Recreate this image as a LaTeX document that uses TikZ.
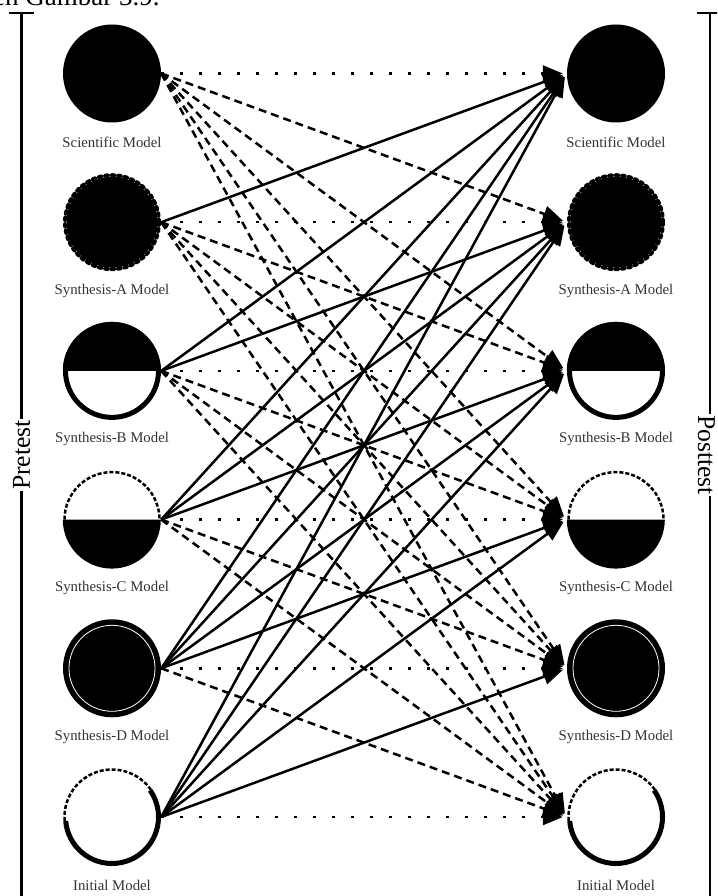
\documentclass[tikz,border=0pt]{standalone}
\usepackage{fontspec}
\setmainfont{Liberation Serif}
\usetikzlibrary{arrows.meta, positioning, calc}

\tikzset{
  model/.style={circle, minimum size=98pt, inner sep=0pt},
  modellbl/.style={font=\fontsize{14.8}{16}\selectfont, text=black!80},
  link/.style={line width=2.5pt, -{Triangle[length=20pt, width=16pt]}, shorten >=4pt},
  keep/.style={link, dash pattern=on 3pt off 16pt},
  worse/.style={link, dash pattern=on 8pt off 5pt},
  better/.style={link},
  testbar/.style={line width=2.5pt},
  testlbl/.style={font=\fontsize{25.7}{28}\selectfont, fill=white, inner sep=1pt}
}

\begin{document}
\begin{tikzpicture}[x=1pt, y=1pt]
  \useasboundingbox (0,0) rectangle (717,-896);
  \clip (0,0) rectangle (717,-896);

  % cut-off line of the running text above
  \node[anchor=base west, font=\fontsize{27}{30}\selectfont, inner sep=0pt]
    (runin) at (-7,-6) {eh Gambar 3.9.};

  % Model nodes, pretest (L) and posttest (R)
  \foreach \i/\mname in {1/Scientific, 2/Synthesis-A, 3/Synthesis-B,
                         4/Synthesis-C, 5/Synthesis-D, 6/Initial} {
    \pgfmathsetmacro\yc{-73.5 - (\i-1)*148.7}
    \node[model] (L\i) at (112,\yc) {};
    \node[model] (R\i) at (616,\yc) {};
    \node[modellbl] (Llbl\i) at (112,\yc-68.5) {\mname\ Model};
    \node[modellbl] (Rlbl\i) at (616,\yc-68.5) {\mname\ Model};
  }

  % Model symbols
  \foreach \s in {L,R} {
    % Scientific
    \fill (\s1.center) circle (49pt);
    % Synthesis-A
    \fill (\s2.center) circle (45.5pt);
    \draw[line width=4pt, line cap=round, dash pattern=on 2.5pt off 4pt]
      (\s2.center) circle (47pt);
    % Synthesis-B
    \fill (\s3.west) arc (180:0:49pt) -- cycle;
    \draw[line width=5pt] (\s3.center) circle (46.5pt);
    % Synthesis-C
    \fill (\s4.west) arc (180:360:49pt) -- cycle;
    \draw[line width=2.5pt, dash pattern=on 4pt off 2pt]
      (\s4.center) ++(180:47.5pt) arc (180:0:47.5pt);
    % Synthesis-D
    \fill (\s5.center) circle (49pt);
    \draw[white, line width=0.8pt] (\s5.center) circle (43pt);
    % Initial
    \draw[line width=5pt] (\s6.center) ++(185:46.5pt) arc (185:395:46.5pt);
    \draw[line width=2.5pt, dash pattern=on 4pt off 2pt]
      (\s6.center) ++(35:47.5pt) arc (35:185:47.5pt);
  }

  % Transitions pretest -> posttest
  \foreach \i in {1,...,6} {
    \foreach \j in {1,...,6} {
      \ifnum\j=\i
        \draw[keep] (L\i.east) -- (R\j.west);
      \else\ifnum\j<\i
        \draw[better] (L\i.east) -- (R\j.west);
      \else
        \draw[worse] (L\i.east) -- (R\j.west);
      \fi\fi
    }
  }

  % Test brackets
  \coordinate (pretop) at (21.5,-13);
  \coordinate (prebot) at (21.5,-900);
  \draw[testbar] (pretop) -- (prebot);
  \draw[testbar] ([xshift=-13pt]pretop) -- ([xshift=12pt]pretop);
  \node[testlbl, rotate=90] (pre) at (21.5,-455) {Pretest};

  \coordinate (posttop) at (710,-13);
  \coordinate (postbot) at (710,-900);
  \draw[testbar] (posttop) -- (postbot);
  \draw[testbar] ([xshift=-13pt]posttop) -- ([xshift=13pt]posttop);
  \node[testlbl, rotate=-90] (post) at (706.5,-455) {Posttest};
\end{tikzpicture}
\end{document}
